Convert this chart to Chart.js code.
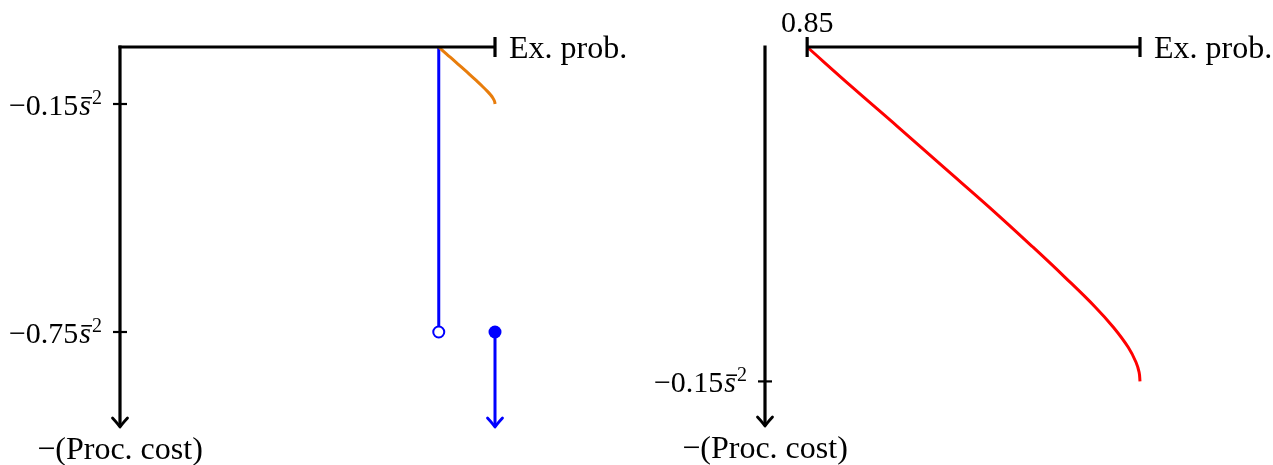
<!DOCTYPE html>
<html>
<head>
<meta charset="utf-8">
<script src="https://cdn.jsdelivr.net/npm/chart.js@4/dist/chart.umd.min.js"></script>
<style>
  html, body { margin: 0; padding: 0; background: #fff; }
  #wrap { position: relative; width: 1273px; height: 465px; }
  #leftChart { position: absolute; left: 0; top: 0; }
  #rightChart { position: absolute; left: 636px; top: 0; }
</style>
</head>
<body>
<div id="wrap">
  <canvas id="leftChart" width="636" height="465"></canvas>
  <canvas id="rightChart" width="637" height="465"></canvas>
</div>
<script>
// values (right panel is a zoom of the orange curve)
const curveProb = [0.85, 0.8703, 0.891, 0.9115, 0.932, 0.9518, 0.9662, 0.9799, 0.988, 0.9947, 0.9982, 0.9996, 1.0];
const curveCost = [0, -0.018, -0.0359, -0.0539, -0.0718, -0.0898, -0.1033, -0.1167, -0.1257, -0.1347, -0.1414, -0.1459, -0.15];
const jumpProb = 0.85;
const jumpCost = -0.75;
const probEnd = 1.0;
const costFloor = -1.0;

const leftTicks = [-0.15, -0.75];
const leftTickLabels = ['\u22120.15', '\u22120.75'];
const rightTicks = [-0.15];
const rightTickLabels = ['\u22120.15'];
const probTickLabel = '0.85';
const xTitle = 'Ex. prob.';
const yTitle = '\u2212(Proc. cost)';

const FONT = '"Liberation Serif", "DejaVu Serif", serif';

function arrowDown(ctx, x, y, color) {
  ctx.save();
  ctx.strokeStyle = color;
  ctx.lineWidth = 2.8;
  ctx.lineCap = 'round';
  ctx.lineJoin = 'round';
  ctx.beginPath();
  ctx.moveTo(x - 7.5, y - 9);
  ctx.quadraticCurveTo(x - 2, y - 3, x, y);
  ctx.quadraticCurveTo(x + 2, y - 3, x + 7.5, y - 9);
  ctx.stroke();
  ctx.restore();
}

// "-0.15 s̄ ²" label, right aligned at rx
function sLabel(ctx, num, rx, base) {
  const big = '30px ' + FONT, ital = 'italic 30px ' + FONT, small = '20px ' + FONT;
  ctx.font = big; const w1 = ctx.measureText(num).width;
  ctx.font = ital; const w2 = ctx.measureText('s').width;
  ctx.font = small; const w3 = ctx.measureText('2').width;
  let x = rx - (w1 + w2 + 2 + w3);
  ctx.textAlign = 'left';
  ctx.textBaseline = 'alphabetic';
  ctx.font = big; ctx.fillText(num, x, base); x += w1 + 1;
  ctx.font = ital; ctx.fillText('s', x, base);
  // macron over the s
  ctx.fillRect(x + 2, base - 18, w2 - 1, 1.6);
  x += w2 + 1;
  ctx.font = small; ctx.fillText('2', x, base - 11);
}

const axesDeco = {
  id: 'axesDeco',
  afterDatasetsDraw(chart, args, o) {
    const ctx = chart.ctx;
    const xs = chart.scales.x, ys = chart.scales.y;
    const ox = chart.chartArea.left;
    const y0 = ys.getPixelForValue(0);
    const yb = ys.getPixelForValue(ys.min);
    const hx0 = xs.getPixelForValue(o.hStart);
    const hx1 = xs.getPixelForValue(o.hEnd);
    ctx.save();
    ctx.strokeStyle = '#000';
    ctx.fillStyle = '#000';
    ctx.lineWidth = 3.2;
    ctx.lineCap = 'butt';
    // vertical axis
    ctx.beginPath();
    ctx.moveTo(ox, y0 - 1.6);
    ctx.lineTo(ox, yb);
    ctx.stroke();
    arrowDown(ctx, ox, yb, '#000');
    // horizontal axis
    ctx.beginPath();
    ctx.moveTo(o.startBar ? hx0 : ox - 1.6, y0);
    ctx.lineTo(hx1, y0);
    ctx.stroke();
    ctx.beginPath();
    ctx.moveTo(hx1, y0 - 10); ctx.lineTo(hx1, y0 + 10);
    if (o.startBar) { ctx.moveTo(hx0, y0 - 10); ctx.lineTo(hx0, y0 + 10); }
    ctx.stroke();
    // y ticks
    ctx.lineWidth = 2.2;
    o.ticks.forEach((v, i) => {
      const py = ys.getPixelForValue(v);
      ctx.beginPath();
      ctx.moveTo(ox - 7, py); ctx.lineTo(ox + 7, py);
      ctx.stroke();
      sLabel(ctx, o.tickLabels[i], ox - 18, py + 11);
    });
    ctx.font = '32px ' + FONT;
    ctx.textBaseline = 'alphabetic';
    ctx.textAlign = 'left';
    ctx.fillText(xTitle, hx1 + 14, y0 + 11);
    ctx.textAlign = 'center';
    ctx.fillText(yTitle, ox, yb + 32);
    ctx.font = '30px ' + FONT;
    if (o.topLabel) ctx.fillText(o.topLabel, hx0, y0 - 15);
    if (o.arrow) {
      arrowDown(ctx, xs.getPixelForValue(o.arrow.x), ys.getPixelForValue(o.arrow.y), o.arrow.color);
    }
    ctx.restore();
  }
};

function pts(xa, ya) { return xa.map((x, i) => ({ x: x, y: ya[i] })); }

function baseOptions(xmin, xmax, ymin, pad, deco) {
  return {
    responsive: false,
    animation: false,
    events: [],
    layout: { padding: pad },
    scales: {
      x: { type: 'linear', min: xmin, max: xmax, display: false },
      y: { type: 'linear', min: ymin, max: 0, display: false }
    },
    plugins: { legend: { display: false }, tooltip: { enabled: false }, axesDeco: deco }
  };
}

new Chart(document.getElementById('leftChart'), {
  type: 'line',
  data: {
    datasets: [
      {
        data: pts(curveProb, curveCost),
        borderColor: 'rgb(232,125,12)', borderWidth: 3,
        pointRadius: 0, tension: 0.4, clip: false
      },
      {
        data: [{ x: jumpProb, y: 0 }, { x: jumpProb, y: jumpCost }],
        borderColor: '#0000ff', borderWidth: 3,
        pointRadius: [0, 5.5], pointBorderWidth: 2,
        pointBackgroundColor: '#fff', pointBorderColor: '#0000ff', clip: false
      },
      {
        data: [{ x: probEnd, y: jumpCost }, { x: probEnd, y: costFloor }],
        borderColor: '#0000ff', borderWidth: 3,
        pointRadius: [6.5, 0], pointBorderWidth: 0,
        pointBackgroundColor: '#0000ff', pointBorderColor: '#0000ff', clip: false
      }
    ]
  },
  options: baseOptions(0, probEnd, costFloor, { left: 120, right: 141, top: 47, bottom: 38 }, {
    hStart: 0, hEnd: probEnd, startBar: false,
    ticks: leftTicks, tickLabels: leftTickLabels, topLabel: null,
    arrow: { x: probEnd, y: costFloor, color: '#0000ff' }
  }),
  plugins: [axesDeco]
});

new Chart(document.getElementById('rightChart'), {
  type: 'line',
  data: {
    datasets: [{
      data: pts(curveProb, curveCost),
      borderColor: '#ff0000', borderWidth: 3,
      pointRadius: 0, tension: 0.4, clip: false
    }]
  },
  options: baseOptions(0.831, probEnd, -0.17, { left: 129, right: 133, top: 47, bottom: 39 }, {
    hStart: jumpProb, hEnd: probEnd, startBar: true,
    ticks: rightTicks, tickLabels: rightTickLabels, topLabel: probTickLabel,
    arrow: null
  }),
  plugins: [axesDeco]
});
</script>
</body>
</html>
